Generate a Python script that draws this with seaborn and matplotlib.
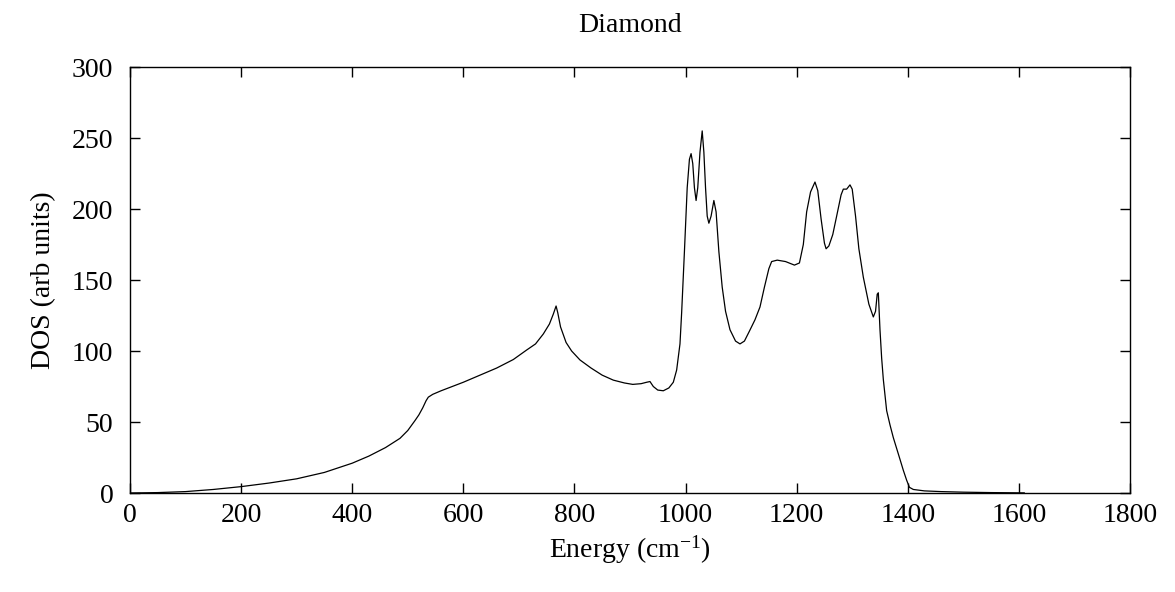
import matplotlib
matplotlib.use("Agg")
import matplotlib.pyplot as plt
import seaborn as sns
import pandas as pd

# Phonon density of states of diamond
energy = [0, 50, 100, 150, 200, 250, 300, 350, 400, 430, 460, 486, 500, 513, 520, 527,
          533, 537, 545, 560, 580, 600, 630, 660, 690, 714, 730, 744, 755, 762, 767,
          770, 775, 785, 795, 810, 830, 850, 870, 890, 905, 920, 930, 936, 942, 950, 960,
          970, 978, 984, 990, 993, 998, 1003, 1007, 1010, 1013, 1016, 1019, 1022, 1026,
          1030, 1033, 1036, 1039, 1042, 1046, 1051, 1055, 1060, 1066, 1072, 1080, 1090,
          1098, 1106, 1115, 1125, 1134, 1142, 1150, 1155, 1165, 1180, 1196, 1205, 1212,
          1218, 1225, 1233, 1238, 1244, 1250, 1253, 1258, 1265, 1272, 1280, 1284, 1290,
          1296, 1300, 1306, 1312, 1320, 1330, 1338, 1342, 1345, 1347, 1350, 1353, 1356,
          1362, 1368, 1374, 1385, 1392, 1398, 1403, 1410, 1430, 1460, 1500, 1550, 1610]
dos = [0, 0.3, 1, 2.5, 4.5, 7, 10, 14.5, 21, 26, 32, 38.5, 44, 51, 55, 60,
       65, 67.5, 69.5, 72, 75, 78, 83, 88, 94, 100.7, 105, 112, 119, 126, 131.7,
       127, 117, 106, 100, 93.7, 88, 83, 79.5, 77.5, 76.5, 77, 78, 78.5, 75, 72.5, 72,
       74, 78, 86.6, 105, 127, 170, 215, 235, 239, 232, 215, 206, 215, 240,
       255, 240, 215, 195, 190, 195, 206, 198, 170, 145, 128, 115, 107,
       105, 107, 114, 122, 131, 145, 158, 163, 164, 163, 160.5, 162, 175,
       198, 212, 219, 213, 193, 176, 172, 174, 182, 195, 210, 214, 214,
       217, 214, 195, 172, 152, 133, 124, 128, 140, 141, 115, 95, 80,
       58, 48, 39, 25, 16, 9, 4, 2.5, 1.5, 1.0, 0.6, 0.3, 0.1]

x_ticks = [0, 200, 400, 600, 800, 1000, 1200, 1400, 1600, 1800]
y_ticks = [0, 50, 100, 150, 200, 250, 300]

df = pd.DataFrame({"Energy": energy, "DOS": dos})

sns.set_theme(style="ticks")
plt.rcParams["font.family"] = ["Liberation Serif", "DejaVu Serif"]
plt.rcParams["mathtext.fontset"] = "custom"
plt.rcParams["mathtext.rm"] = "Liberation Serif"
plt.rcParams["mathtext.it"] = "Liberation Serif:italic"
plt.rcParams["text.color"] = "black"
plt.rcParams["axes.labelcolor"] = "black"

fig = plt.figure(figsize=(11.75, 5.92), dpi=100)
ax = fig.add_axes([0.1106, 0.1672, 0.8511, 0.7196])

sns.lineplot(data=df, x="Energy", y="DOS", color="black", linewidth=0.9,
             ax=ax, sort=False, estimator=None)

ax.set_xlim(0, 1800)
ax.set_ylim(0, 300)
ax.set_xticks(x_ticks)
ax.set_yticks(y_ticks)

for side in ax.spines.values():
    side.set_linewidth(1.0)
    side.set_color("black")

ax.tick_params(axis="both", direction="in", top=True, right=True, length=7,
               width=1.0, color="black", labelsize=20, labelcolor="black")
ax.tick_params(axis="x", pad=7)
ax.tick_params(axis="y", pad=12)

ax.set_title("Diamond", fontsize=20, pad=25, color="black")
ax.set_xlabel("Energy (cm$^{\\mathrm{-1}}$)", fontsize=20, labelpad=4)
ax.set_ylabel("DOS (arb units)", fontsize=20, labelpad=11)

fig.savefig("out.png", dpi=100)
